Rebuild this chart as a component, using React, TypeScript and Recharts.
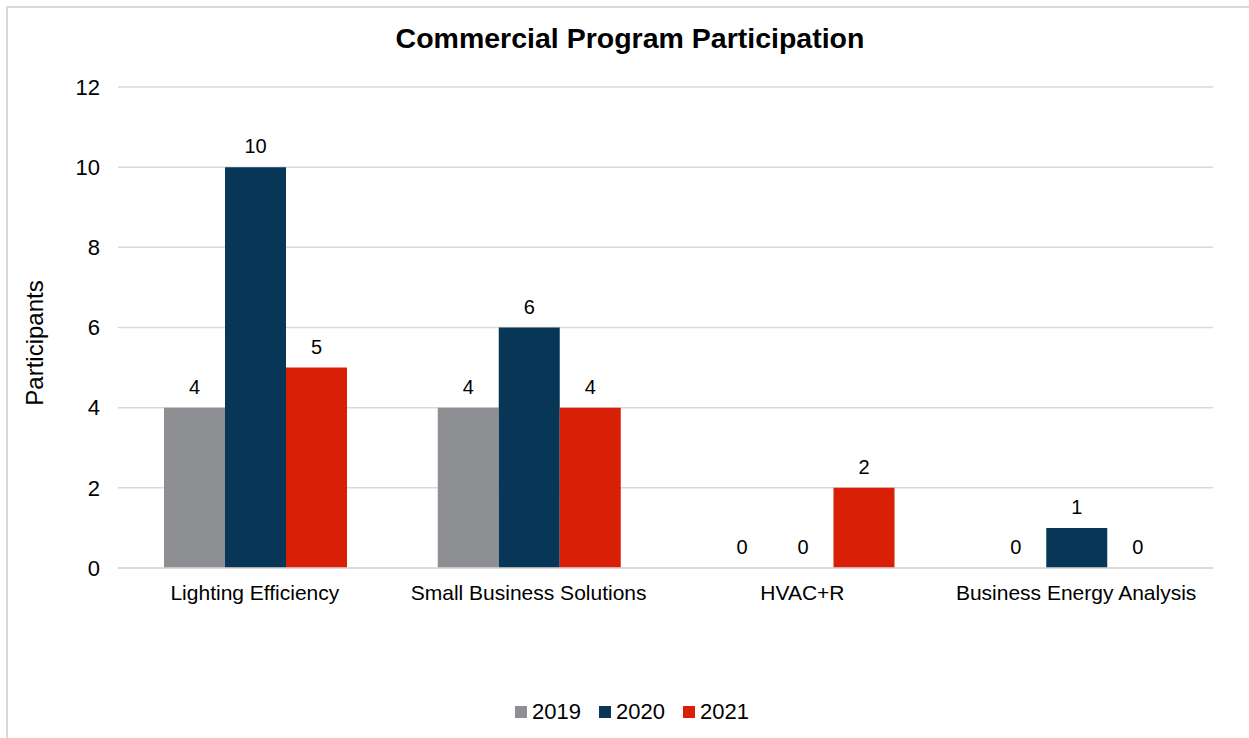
import React from "react";
import { BarChart, Bar, XAxis, YAxis, CartesianGrid, Legend, LabelList } from "recharts";

const categories = ["Lighting Efficiency", "Small Business Solutions", "HVAC+R", "Business Energy Analysis"];
const y2019 = [4, 4, 0, 0];
const y2020 = [10, 6, 0, 1];
const y2021 = [5, 4, 2, 0];
const yTicks = [0, 2, 4, 6, 8, 10, 12];

const SERIES = [
  { key: "y2019", name: "2019", color: "#8e8f92" },
  { key: "y2020", name: "2020", color: "#083657" },
  { key: "y2021", name: "2021", color: "#d91f05" },
];

const data = categories.map((c, i) => ({
  name: c,
  y2019: y2019[i],
  y2020: y2020[i],
  y2021: y2021[i],
}));

const FONT = '"Liberation Sans", Arial, sans-serif';

function LegendContent() {
  return (
    <div style={{ display: "flex", justifyContent: "center", alignItems: "center", height: 24, fontFamily: FONT, fontSize: 22, color: "#000" }}>
      {SERIES.map((s, i) => (
        <div key={s.key} style={{ display: "flex", alignItems: "center", marginLeft: i ? 18 : 0 }}>
          <span style={{ width: 12, height: 12, background: s.color, display: "inline-block", marginRight: 5 }} />
          <span>{s.name}</span>
        </div>
      ))}
    </div>
  );
}

export default function App() {
  return (
    <div style={{ position: "fixed", left: 0, top: 0, width: 1249, height: 738, overflow: "hidden", background: "#fff" }}>
      <div style={{ position: "absolute", left: 6, top: 6, width: 1300, height: 800, border: "2px solid #d9d9d9", boxSizing: "border-box" }} />
      <div style={{ position: "absolute", left: 0, top: 22, width: 1260, textAlign: "center", fontFamily: FONT, fontWeight: "bold", fontSize: 28.5, lineHeight: "32px", color: "#000" }}>
        Commercial Program Participation
      </div>
      <div style={{ position: "absolute", left: 0, top: 0 }}>
        <BarChart
          width={1249}
          height={738}
          data={data}
          margin={{ top: 87, right: 36, left: 8, bottom: 106 }}
          barCategoryGap={46}
          barGap={0}
          style={{ fontFamily: FONT }}
        >
          <CartesianGrid vertical={false} stroke="#d9d9d9" strokeWidth={1.5} />
          <XAxis
            dataKey="name"
            axisLine={{ stroke: "#d9d9d9", strokeWidth: 1.5 }}
            tickLine={false}
            tickSize={0}
            tickMargin={17}
            height={40}
            interval={0}
            tick={{ fill: "#000", fontSize: 21 }}
          />
          <YAxis
            domain={[0, 12]}
            ticks={yTicks}
            width={110}
            axisLine={false}
            tickLine={false}
            tickSize={0}
            tickMargin={18}
            tick={{ fill: "#000", fontSize: 22 }}
            label={{
              content: () => (
                <text x={34} y={343} transform="rotate(-90 34 343)" textAnchor="middle" dominantBaseline="central" fill="#000" fontSize={24}>
                  Participants
                </text>
              ),
            }}
          />
          <Legend content={<LegendContent />} wrapperStyle={{ top: 700, left: 0, width: 1264 }} />
          {SERIES.map((s) => (
            <Bar key={s.key} dataKey={s.key} name={s.name} fill={s.color} minPointSize={0.01} isAnimationActive={false}>
              <LabelList dataKey={s.key} position="top" offset={14} fill="#000" fontSize={20} />
            </Bar>
          ))}
        </BarChart>
      </div>
    </div>
  );
}
